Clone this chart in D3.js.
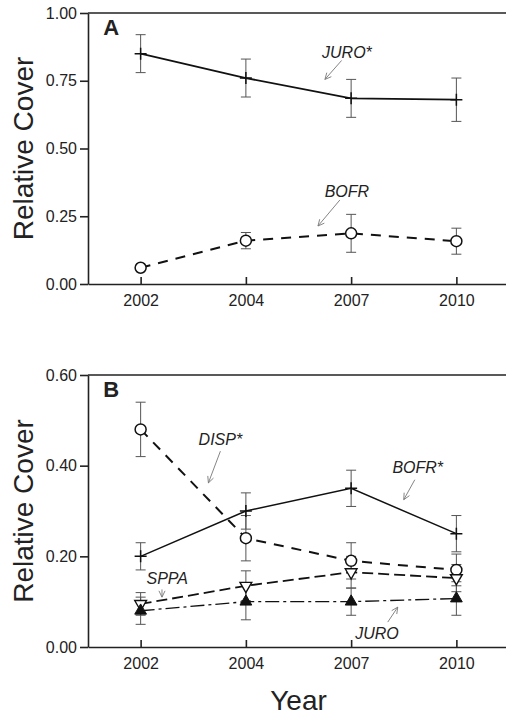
<!DOCTYPE html>
<html>
<head>
<meta charset="utf-8">
<script src="https://cdn.jsdelivr.net/npm/d3@7"></script>
<style>
  body { margin: 0; background: #fff; }
  svg text { font-family: "Liberation Sans", Arial, sans-serif; fill: #222; }
</style>
</head>
<body>
<div id="chart-area"></div>
<script>
// Data
var years = ["2002", "2004", "2007", "2010"];

// Panel A
var juroA = [0.85, 0.76, 0.685, 0.68];
var juroAErr = [0.07, 0.07, 0.07, 0.08];
var bofrA = [0.06, 0.16, 0.187, 0.158];
var bofrAErr = [0.004, 0.03, 0.07, 0.048];
var ticksA = [0, 0.25, 0.5, 0.75, 1.0];

// Panel B
var disp = [0.48, 0.24, 0.19, 0.17];
var dispErr = [0.06, 0.05, 0.04, 0.035];
var bofrB = [0.20, 0.30, 0.35, 0.25];
var bofrBErr = [0.03, 0.04, 0.04, 0.04];
var sppa = [0.095, 0.135, 0.165, 0.152];
var sppaErr = [0.025, 0.033, 0.035, 0.03];
var juroB = [0.08, 0.10, 0.10, 0.107];
var juroBErr = [0.03, 0.04, 0.03, 0.037];
var ticksB = [0, 0.2, 0.4, 0.6];

var width = 506, height = 718;
var left = 88, right = 509;

var svg = d3.select("#chart-area").append("svg")
	.attr("width", width)
	.attr("height", height);

var x = d3.scalePoint()
	.domain(years)
	.range([left, right])
	.padding(0.5);

// fractional index -> px, for annotations
function xi(i) { return x(years[0]) + i * x.step(); }

function arrow(g, x1, y1, x2, y2) {
	g.append("line")
		.attr("x1", x1).attr("y1", y1)
		.attr("x2", x2).attr("y2", y2)
		.attr("stroke", "#777")
		.attr("stroke-width", 0.9);
	var a = Math.atan2(y2 - y1, x2 - x1);
	var L = 7, s = 0.45;
	g.append("path")
		.attr("d", "M" + (x2 - L * Math.cos(a - s)) + "," + (y2 - L * Math.sin(a - s)) +
			"L" + x2 + "," + y2 +
			"L" + (x2 - L * Math.cos(a + s)) + "," + (y2 - L * Math.sin(a + s)))
		.attr("fill", "none")
		.attr("stroke", "#777")
		.attr("stroke-width", 0.9);
}

function panel(top, bottom, yMax, ticks, fmt, letter, series, notes) {
	var y = d3.scaleLinear().domain([0, yMax]).range([bottom, top]);
	var g = svg.append("g");

	// frame
	g.append("line")
		.attr("x1", left).attr("x2", right)
		.attr("y1", top).attr("y2", top)
		.attr("stroke", "#222").attr("stroke-width", 1.6);
	g.append("line")
		.attr("x1", right).attr("x2", right)
		.attr("y1", top).attr("y2", bottom)
		.attr("stroke", "#222").attr("stroke-width", 1.6);

	var yAxis = g.append("g")
		.attr("transform", "translate(" + left + ",0)")
		.call(d3.axisLeft(y).tickValues(ticks).tickFormat(fmt)
			.tickSizeInner(8).tickSizeOuter(0).tickPadding(3));
	var xAxis = g.append("g")
		.attr("transform", "translate(0," + bottom + ")")
		.call(d3.axisBottom(x).tickSizeInner(-7).tickSizeOuter(0).tickPadding(11));

	[yAxis, xAxis].forEach(function(a) {
		a.selectAll("path, line").attr("stroke", "#222").attr("stroke-width", 1.6);
		a.selectAll("text").style("font-size", "16px").attr("fill", "#222");
	});

	// y label
	g.append("text")
		.attr("transform", "rotate(-90)")
		.attr("x", -(top + bottom) / 2)
		.attr("y", 33)
		.attr("text-anchor", "middle")
		.style("font-size", "28px")
		.text("Relative Cover");

	// panel letter
	g.append("text")
		.attr("x", xi(-0.354))
		.attr("y", top + 22)
		.style("font-size", "22px")
		.style("font-weight", "bold")
		.text(letter);

	var line = d3.line()
		.x(function(d, i) { return x(years[i]); })
		.y(function(d) { return y(d); });

	// error bars
	series.forEach(function(s) {
		s.values.forEach(function(v, i) {
			var cx = x(years[i]);
			var lo = y(v - s.err[i]), hi = y(v + s.err[i]);
			g.append("line")
				.attr("x1", cx).attr("x2", cx).attr("y1", lo).attr("y2", hi)
				.attr("stroke", "#555").attr("stroke-width", 1);
			[lo, hi].forEach(function(yy) {
				g.append("line")
					.attr("x1", cx - 5).attr("x2", cx + 5).attr("y1", yy).attr("y2", yy)
					.attr("stroke", "#555").attr("stroke-width", 1);
			});
		});
	});

	// lines
	series.forEach(function(s) {
		g.append("path")
			.datum(s.values)
			.attr("d", line)
			.attr("fill", "none")
			.attr("stroke", "#111")
			.attr("stroke-width", s.width)
			.attr("stroke-dasharray", s.dash);
	});

	// markers
	series.forEach(function(s) {
		s.values.forEach(function(v, i) {
			var m = g.append("g")
				.attr("transform", "translate(" + x(years[i]) + "," + y(v) + ")");
			if (s.marker === "plus") {
				m.append("path").attr("d", "M-6,0H6M0,-6V6")
					.attr("stroke", "#111").attr("stroke-width", 1.5);
			} else if (s.marker === "circle") {
				m.append("circle").attr("r", 5.5)
					.attr("fill", "#fff").attr("stroke", "#111").attr("stroke-width", 1.5);
			} else if (s.marker === "triDown") {
				m.append("path").attr("d", d3.symbol(d3.symbolTriangle, 60)())
					.attr("transform", "rotate(180)")
					.attr("fill", "#fff").attr("stroke", "#111").attr("stroke-width", 1.4);
			} else if (s.marker === "triUp") {
				m.append("path").attr("d", d3.symbol(d3.symbolTriangle, 60)())
					.attr("fill", "#111").attr("stroke", "#111").attr("stroke-width", 1);
			}
		});
	});

	// annotations
	notes.forEach(function(n) {
		g.append("text")
			.attr("x", xi(n.tx))
			.attr("y", y(n.ty))
			.attr("text-anchor", "middle")
			.style("font-size", "16px")
			.style("font-style", "italic")
			.attr("fill", "#333")
			.text(n.label);
		arrow(g, xi(n.ax1), y(n.ay1), xi(n.ax2), y(n.ay2));
	});
}

panel(13, 284, 1.0, ticksA, d3.format(".2f"), "A", [
	{ values: juroA, err: juroAErr, marker: "plus", dash: null, width: 1.8 },
	{ values: bofrA, err: bofrAErr, marker: "circle", dash: "10,8", width: 2 }
], [
	{ label: "JURO*", tx: 1.96, ty: 0.834, ax1: 1.91, ay1: 0.825, ax2: 1.751, ay2: 0.755 },
	{ label: "BOFR", tx: 1.96, ty: 0.321, ax1: 1.893, ay1: 0.31, ax2: 1.685, ay2: 0.214 }
]);

panel(375, 647, 0.6, ticksB, d3.format(".2f"), "B", [
	{ values: bofrB, err: bofrBErr, marker: "plus", dash: null, width: 1.5 },
	{ values: disp, err: dispErr, marker: "circle", dash: "10,8", width: 2 },
	{ values: sppa, err: sppaErr, marker: "triDown", dash: "11,5", width: 1.8 },
	{ values: juroB, err: juroBErr, marker: "triUp", dash: "14,4,3,4", width: 1.3 }
], [
	{ label: "DISP*", tx: 0.758, ty: 0.445, ax1: 0.758, ay1: 0.432, ax2: 0.644, ay2: 0.362 },
	{ label: "BOFR*", tx: 2.633, ty: 0.384, ax1: 2.605, ay1: 0.369, ax2: 2.5, ay2: 0.325 },
	{ label: "SPPA", tx: 0.253, ty: 0.138, ax1: 0.203, ay1: 0.127, ax2: 0.203, ay2: 0.11 },
	{ label: "JURO", tx: 2.245, ty: 0.017, ax1: 2.348, ay1: 0.055, ax2: 2.443, ay2: 0.088 }
]);

// x label
svg.append("text")
	.attr("x", (left + right) / 2)
	.attr("y", 710)
	.attr("text-anchor", "middle")
	.style("font-size", "28px")
	.text("Year");
</script>
</body>
</html>
